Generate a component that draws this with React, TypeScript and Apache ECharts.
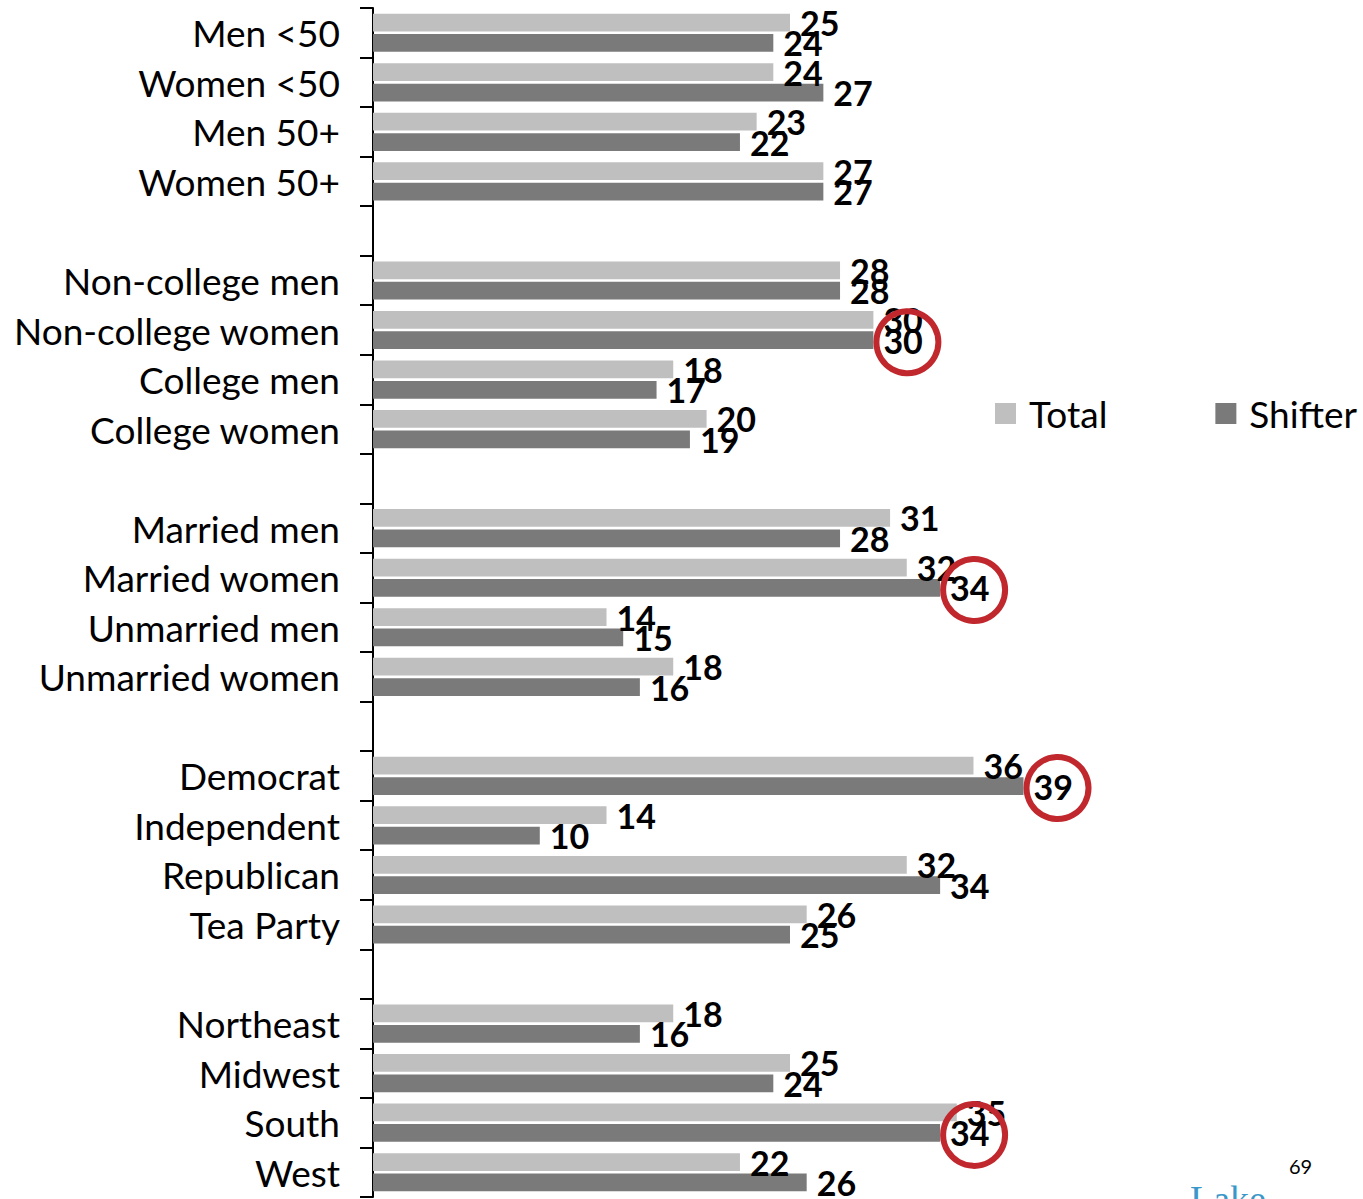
import React, { useEffect, useRef } from "react";
import * as echarts from "echarts";

const categories = [
  "Men <50", "Women <50", "Men 50+", "Women 50+", " ",
  "Non-college men", "Non-college women", "College men", "College women", "  ",
  "Married men", "Married women", "Unmarried men", "Unmarried women", "   ",
  "Democrat", "Independent", "Republican", "Tea Party", "    ",
  "Northeast", "Midwest", "South", "West",
];

const totalValues: (number | string)[] = [
  25, 24, 23, 27, "-",
  28, 30, 18, 20, "-",
  31, 32, 14, 18, "-",
  36, 14, 32, 26, "-",
  18, 25, 35, 22,
];

const shifterValues: (number | string)[] = [
  24, 27, 22, 27, "-",
  28, 30, 17, 19, "-",
  28, 34, 15, 16, "-",
  39, 10, 34, 25, "-",
  16, 24, 34, 26,
];

const circled: [number, string][] = [
  [30, "Non-college women"],
  [34, "Married women"],
  [39, "Democrat"],
  [34, "South"],
];

const FONT = "Lato";

export default function App() {
  const ref = useRef<HTMLDivElement>(null);
  useEffect(() => {
    if (!ref.current) return;
    const chart = echarts.init(ref.current, null, { renderer: "svg" });
    const labelStyle = {
      show: true,
      position: "right" as const,
      distance: 10,
      offset: [0, 0],
      fontFamily: FONT,
      fontWeight: "bold" as const,
      fontSize: 34,
      color: "#000",
    };
    chart.setOption({
      animation: false,
      backgroundColor: "#fff",
      textStyle: { fontFamily: FONT },
      grid: { left: 373, top: 8, width: 834, height: 1189 },
      legend: {
        left: 990,
        top: 390,
        icon: "rect",
        itemWidth: 21,
        itemHeight: 21,
        itemGap: 108,
        textStyle: { fontFamily: FONT, fontSize: 37, color: "#000", padding: [0, 0, 0, 8] },
        data: ["Total", "Shifter"],
      },
      xAxis: { type: "value", min: 0, max: 50, show: false },
      yAxis: {
        type: "category",
        inverse: true,
        data: categories,
        axisLine: { show: true, lineStyle: { color: "#000", width: 2 } },
        axisTick: { show: true, length: 13, lineStyle: { color: "#000", width: 2 } },
        axisLabel: { fontFamily: FONT, fontSize: 37, color: "#000", margin: 33 },
      },
      series: [
        {
          name: "Total",
          type: "bar",
          data: totalValues,
          barCategoryGap: "23%",
          barGap: "15%",
          itemStyle: { color: "#bfbfbf" },
          label: labelStyle,
        },
        {
          name: "Shifter",
          type: "bar",
          data: shifterValues,
          barCategoryGap: "23%",
          barGap: "15%",
          itemStyle: { color: "#7a7a7a" },
          label: labelStyle,
          markPoint: {
            symbol: "circle",
            symbolSize: 62,
            symbolOffset: [34, 2],
            itemStyle: { color: "rgba(0,0,0,0)", borderColor: "#c0282d", borderWidth: 6 },
            label: { show: false },
            data: circled.map(([v, c]) => ({ coord: [v, c] })),
          },
        },
      ],
      graphic: [
        {
          type: "text",
          left: 1289,
          top: 1156,
          style: { text: "69", fontFamily: FONT, fontSize: 20, fill: "#000" },
        },
        {
          type: "text",
          left: 1190,
          top: 1180,
          style: { text: "Lake", fontFamily: "Liberation Serif", fontSize: 38, fill: "#3a97c9" },
        },
      ],
    });
    return () => chart.dispose();
  }, []);
  return (
    <div
      ref={ref}
      style={{ position: "fixed", left: 0, top: 0, width: 1363, height: 1199 }}
    />
  );
}
